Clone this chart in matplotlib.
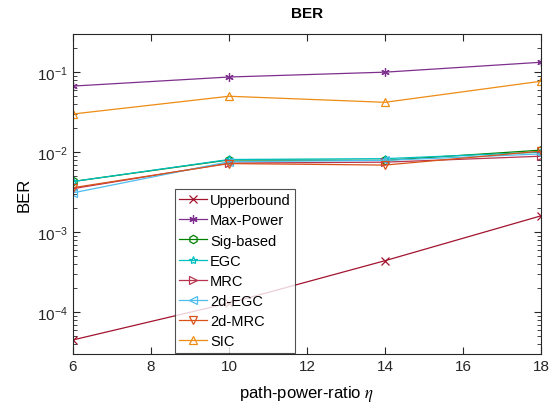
import numpy as np
import matplotlib
matplotlib.use('Agg')
import matplotlib.pyplot as plt

plt.rcParams['font.family'] = ['Liberation Sans', 'DejaVu Sans']
plt.rcParams['mathtext.fontset'] = 'stix'

# path-power-ratio
eta = [6, 10, 14, 18]

upperbound = [4.5e-5, 1.3e-4, 4.4e-4, 1.6e-3]
max_power = [0.067, 0.087, 0.100, 0.133]
sig_based = [0.0043, 0.0080, 0.0079, 0.0106]
egc = [0.0043, 0.0081, 0.0083, 0.0100]
mrc = [0.0035, 0.0073, 0.0075, 0.0089]
egc_2d = [0.0031, 0.0076, 0.0079, 0.0095]
mrc_2d = [0.0036, 0.0072, 0.0069, 0.0103]
sic = [0.030, 0.050, 0.042, 0.077]

series = [
    ('Upperbound', upperbound, '#A2142F', 'x'),
    ('Max-Power', max_power, '#7E2F8E', (6, 2, 0)),
    ('Sig-based', sig_based, '#008000', 'h'),
    ('EGC', egc, '#00BFBF', '*'),
    ('MRC', mrc, '#B8334F', '>'),
    ('2d-EGC', egc_2d, '#4DBEEE', '<'),
    ('2d-MRC', mrc_2d, '#D95319', 'v'),
    ('SIC', sic, '#EE8C14', '^'),
]

fig = plt.figure(figsize=(5.5, 4.06), dpi=100)
ax = fig.add_axes([0.1327, 0.1256, 0.8509, 0.7882])

for name, vals, col, mk in series:
    ax.semilogy(eta, vals, color=col, marker=mk, markersize=6,
                markerfacecolor='none', markeredgewidth=0.9,
                linewidth=0.9, label=name)

ax.set_xlim(6, 18)
ax.set_ylim(3e-5, 3e-1)
ax.set_xticks([6, 8, 10, 12, 14, 16, 18])
ax.tick_params(which='both', direction='in', top=True, right=True,
               labelsize=11, colors='#262626')
ax.tick_params(which='major', length=5)
ax.tick_params(which='minor', length=3)
for s in ax.spines.values():
    s.set_color('#262626')
    s.set_linewidth(0.8)

ax.set_title('BER', fontsize=11, fontweight='bold', pad=12)
ax.set_ylabel('BER', fontsize=12)
ax.set_xlabel(r'path-power-ratio $\eta$', fontsize=12, labelpad=7)

leg = ax.legend(loc='lower left', bbox_to_anchor=(0.215, 0.0), fontsize=10.5,
                handlelength=1.9, handletextpad=0.2, labelspacing=0.42,
                borderaxespad=0.1, borderpad=0.3, fancybox=False)
leg.get_frame().set_edgecolor('#262626')
leg.get_frame().set_linewidth(0.8)

plt.savefig('out.png', dpi=100)
plt.close()
